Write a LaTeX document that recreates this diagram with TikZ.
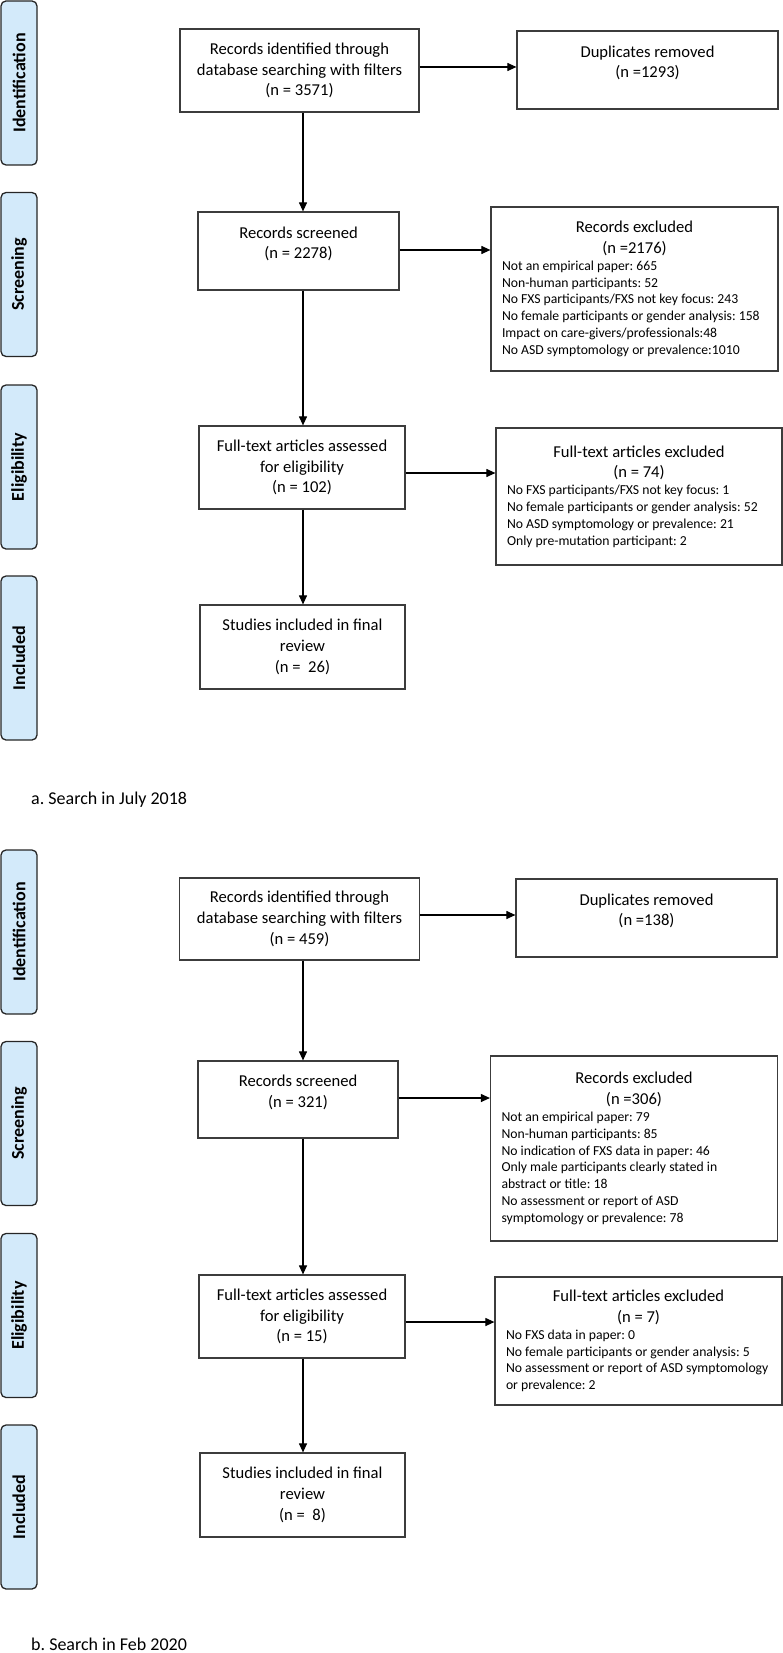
\documentclass[tikz,border=0pt]{standalone}
\usepackage{fontspec}
\setmainfont{Carlito}
\usetikzlibrary{arrows.meta}
\definecolor{stageblue}{RGB}{211,234,250}
\definecolor{boxline}{RGB}{60,60,60}
\frenchspacing
\hyphenpenalty=10000

\begin{document}
\begin{tikzpicture}[
  x=1pt, y=-1pt,
  stage/.style={rectangle, rounded corners=5pt, draw=black!85, line width=1.3pt, fill=stageblue, rotate=90, minimum width=164pt, minimum height=36pt, inner sep=0pt, font=\fontsize{18}{22}\selectfont\bfseries},
  record/.style={rectangle, draw=boxline, line width=1.2pt, align=center, inner sep=0pt, font=\fontsize{16.6}{20.7}\selectfont},
  excluded/.style={rectangle, draw=boxline, line width=1.2pt, align=flush left, inner xsep=11pt, inner ysep=0pt, font=\fontsize{16.6}{20.7}\selectfont},
  flow/.style={draw=black, line width=1.1pt, -{Triangle[length=9pt,width=8pt]}},
  caption/.style={anchor=base west, inner sep=0pt, font=\fontsize{18}{22}\selectfont}
]
\useasboundingbox (0,0) rectangle (783,1653);
\coordinate (spine) at (303,0);

% Search a: stage labels
\node[stage] (identA) at (19,83) {Identification};
\node[stage] (screenA) at (19,274.5) {Screening};
\node[stage] (eligA) at (19,467) {Eligibility};
\node[stage] (inclA) at (19,658) {Included};

% Search a: boxes
\node[record, minimum width=239pt, minimum height=83pt] (ridA) at (299.5,70.5) {Records identified through\\database searching with filters\\(n = 3571)};
\node[record, minimum width=261pt, minimum height=78pt] (dupA) at (647.5,70) {Duplicates removed\\(n =1293)\\[-4pt]\mbox{}};
\node[record, minimum width=201pt, minimum height=78pt] (rsA) at (298.5,251) {Records screened\\(n = 2278)\\[-4pt]\mbox{}};
\node[excluded, text width=265pt, minimum width=287pt, minimum height=164pt] (rexA) at (634.5,289) {{\centering Records excluded\\(n =2176)\par}
\fontsize{13.7}{16.8}\selectfont
Not an empirical paper: 665\\
Non-human participants: 52\\
No FXS participants/FXS not key focus: 243\\
No female participants or gender analysis: 158\\
Impact on care-givers/professionals:48\\
No ASD symptomology or prevalence:1010\par};
\node[record, minimum width=206pt, minimum height=83pt] (ftaA) at (302,467.5) {Full-text articles assessed\\for eligibility\\(n = 102)};
\node[excluded, text width=264pt, minimum width=286pt, minimum height=137pt] (fteA) at (639,496.5) {{\centering Full-text articles excluded\\(n = 74)\par}
\fontsize{13.7}{16.8}\selectfont
No FXS participants/FXS not key focus: 1\\
No female participants or gender analysis: 52\\
No ASD symptomology or prevalence: 21\\
Only pre-mutation participant: 2\par};
\node[record, minimum width=205pt, minimum height=84pt] (sinA) at (302.5,647) {Studies included in final\\review\\(n = \ 26)};

% Search a: connections
\draw[flow] ([yshift=3.5pt]ridA.east) -- ([yshift=3.5pt]ridA.east -| dupA.west);
\draw[flow] ([yshift=1pt]rsA.east) -- ([yshift=1pt]rsA.east -| rexA.west);
\draw[flow] ([yshift=-5.5pt]ftaA.east) -- ([yshift=-5.5pt]ftaA.east -| fteA.west);
\draw[flow] (ridA.south -| spine) -- (rsA.north -| spine);
\draw[flow] (rsA.south -| spine) -- (ftaA.north -| spine);
\draw[flow] (ftaA.south -| spine) -- (sinA.north -| spine);

\node[caption] (capA) at (31,804) {a. Search in July 2018};

% Search b: stage labels
\node[stage] (identB) at (19,932) {Identification};
\node[stage] (screenB) at (19,1123.5) {Screening};
\node[stage] (eligB) at (19,1315.5) {Eligibility};
\node[stage] (inclB) at (19,1507) {Included};

% Search b: boxes
\node[record, minimum width=240pt, minimum height=82pt] (ridB) at (299.5,919) {Records identified through\\database searching with filters\\(n = 459)};
\node[record, minimum width=261pt, minimum height=78pt] (dupB) at (646.5,918) {Duplicates removed\\(n =138)\\[-4pt]\mbox{}};
\node[record, minimum width=200pt, minimum height=77pt] (rsB) at (298,1099.5) {Records screened\\(n = 321)\\[-4pt]\mbox{}};
\node[excluded, text width=265pt, minimum width=287pt, minimum height=185pt] (rexB) at (634,1148.5) {{\centering Records excluded\\(n =306)\par}
\fontsize{13.7}{16.8}\selectfont
Not an empirical paper: 79\\
Non-human participants: 85\\
No indication of FXS data in paper: 46\\
Only male participants clearly stated in\\
abstract or title: 18\\
No assessment or report of ASD\\
symptomology or prevalence: 78\par};
\node[record, minimum width=206pt, minimum height=83pt] (ftaB) at (302,1316.5) {Full-text articles assessed\\for eligibility\\(n = 15)};
\node[excluded, text width=265pt, minimum width=287pt, minimum height=128pt] (fteB) at (638.5,1341) {{\centering Full-text articles excluded\\(n = 7)\par}
\fontsize{13.7}{16.8}\selectfont
No FXS data in paper: 0\\
No female participants or gender analysis: 5\\
No assessment or report of ASD symptomology\\
or prevalence: 2\par};
\node[record, minimum width=205pt, minimum height=84pt] (sinB) at (302.5,1495) {Studies included in final\\review\\(n = \ 8)};

% Search b: connections
\draw[flow] ([yshift=4pt]ridB.east) -- ([yshift=4pt]ridB.east -| dupB.west);
\draw[flow] ([yshift=1.5pt]rsB.east) -- ([yshift=1.5pt]rsB.east -| rexB.west);
\draw[flow] ([yshift=-5.5pt]ftaB.east) -- ([yshift=-5.5pt]ftaB.east -| fteB.west);
\draw[flow] (ridB.south -| spine) -- (rsB.north -| spine);
\draw[flow] (rsB.south -| spine) -- (ftaB.north -| spine);
\draw[flow] (ftaB.south -| spine) -- (sinB.north -| spine);

\node[caption] (capB) at (31,1650) {b. Search in Feb 2020};

\end{tikzpicture}
\end{document}
